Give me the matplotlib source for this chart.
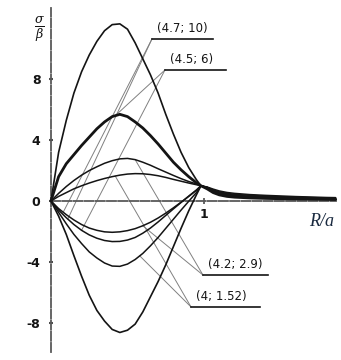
import numpy as np
import matplotlib as mpl
mpl.use("Agg")
import matplotlib.pyplot as plt

mpl.rcParams['axes.unicode_minus'] = False
mpl.rcParams['mathtext.fontset'] = 'dejavuserif'
plt.rc('font', family='DejaVu Sans', size=9)

# R/a sampling (shared by all curves)
r = [0.0, 0.05, 0.1, 0.15, 0.2, 0.25, 0.3, 0.35, 0.4, 0.45, 0.5, 0.55, 0.6,
     0.65, 0.7, 0.75, 0.8, 0.85, 0.9, 0.95, 0.98, 1.02, 1.06, 1.1, 1.15, 1.2,
     1.3, 1.4, 1.5, 1.6, 1.7, 1.8, 1.86]

# sigma/beta, positive branches
pos_47 = [0, 3.2, 5.3, 7.1, 8.5, 9.6, 10.5, 11.2, 11.6, 11.65, 11.3, 10.4, 9.35,
          8.3, 7.1, 5.7, 4.4, 3.2, 2.2, 1.4, 1.0,
          0.85, 0.62, 0.48, 0.38, 0.32, 0.26, 0.22, 0.19, 0.16, 0.14, 0.12, 0.11]
pos_45 = [0, 1.6, 2.45, 3.05, 3.65, 4.2, 4.75, 5.2, 5.55, 5.7, 5.55, 5.2, 4.8,
          4.3, 3.75, 3.15, 2.55, 2.05, 1.6, 1.2, 1.0,
          0.8, 0.55, 0.4, 0.3, 0.25, 0.2, 0.17, 0.15, 0.13, 0.12, 0.11, 0.1]
pos_42 = [0, 0.5, 0.95, 1.35, 1.7, 2.0, 2.25, 2.48, 2.65, 2.77, 2.8, 2.72, 2.55,
          2.35, 2.12, 1.9, 1.68, 1.47, 1.28, 1.12, 1.0,
          0.9, 0.72, 0.6, 0.5, 0.44, 0.37, 0.32, 0.28, 0.25, 0.22, 0.2, 0.19]
pos_40 = [0, 0.3, 0.55, 0.8, 1.0, 1.18, 1.34, 1.48, 1.6, 1.7, 1.77, 1.8, 1.79,
          1.74, 1.66, 1.55, 1.42, 1.3, 1.18, 1.07, 1.0,
          0.92, 0.78, 0.66, 0.56, 0.5, 0.42, 0.37, 0.33, 0.29, 0.26, 0.23, 0.22]

# negative branches
neg_a = [0, -0.5, -0.9, -1.25, -1.55, -1.78, -1.93, -2.03, -2.06, -2.03, -1.95,
         -1.82, -1.63, -1.4, -1.12, -0.8, -0.45, -0.08, 0.3, 0.7, 1.0,
         0.9, 0.7, 0.56, 0.45, 0.38, 0.3, 0.26, 0.22, 0.19, 0.17, 0.15, 0.14]
neg_b = [0, -0.6, -1.1, -1.55, -1.93, -2.23, -2.45, -2.6, -2.67, -2.66, -2.57,
         -2.4, -2.12, -1.78, -1.38, -0.95, -0.52, -0.1, 0.32, 0.72, 1.0,
         0.88, 0.68, 0.54, 0.43, 0.36, 0.29, 0.25, 0.21, 0.18, 0.16, 0.14, 0.13]
neg_c = [0, -0.75, -1.5, -2.2, -2.8, -3.35, -3.75, -4.08, -4.28, -4.3, -4.15,
         -3.85, -3.45, -2.95, -2.4, -1.8, -1.2, -0.6, -0.02, 0.55, 1.0,
         0.86, 0.64, 0.5, 0.4, 0.34, 0.27, 0.23, 0.2, 0.17, 0.15, 0.13, 0.12]
neg_d = [0, -1.0, -2.2, -3.6, -4.95, -6.2, -7.2, -7.9, -8.45, -8.65, -8.5,
         -8.1, -7.3, -6.3, -5.3, -4.2, -3.0, -1.8, -0.65, 0.4, 1.0,
         0.84, 0.6, 0.45, 0.35, 0.29, 0.23, 0.19, 0.16, 0.14, 0.12, 0.1, 0.09]

curves = [pos_47, pos_45, pos_42, pos_40, neg_a, neg_b, neg_c, neg_d]
widths = [1.2, 2.0, 1.1, 1.1, 1.1, 1.1, 1.1, 1.2]

yticks = [8, 4, 0, -4, -8]
xticks = [1]

# label text, underline start (R, value), underline length, leader targets (curve idx, R)
labels = ["(4.7; 10)", "(4.5; 6)", "(4.2; 2.9)", "(4; 1.52)"]
label_xy = [(0.66, 10.66), (0.745, 8.62), (0.993, -4.87), (0.915, -6.97)]
label_len = [0.40, 0.40, 0.425, 0.45]
leaders = [[(4, 0.08), (5, 0.11)],
           [(1, 0.42), (5, 0.20)],
           [(2, 0.55), (4, 0.60)],
           [(3, 0.42), (6, 0.58)]]

fig = plt.figure(figsize=(3.41, 3.6), dpi=100)
ax = fig.add_axes([0, 0, 1, 1])
ax.set_xlim(-0.333, 1.895)
ax.set_ylim(-10.46, 13.22)

ink = '#141414'
for c, lw in zip(curves, widths):
    ax.plot(r, c, color=ink, lw=lw, solid_capstyle='round', zorder=3)

# leader lines and underlined labels
for text, (lx, ly), ln, targets in zip(labels, label_xy, label_len, leaders):
    for idx, rt in targets:
        yt = np.interp(rt, r, curves[idx])
        ax.plot([lx, rt], [ly, yt], color='0.5', lw=0.7, zorder=2)
    ax.plot([lx, lx + ln], [ly, ly], color=ink, lw=1.2, zorder=3)
    ax.text(lx + 0.03, ly + 0.25, text, ha='left', va='bottom',
            fontsize=8.5, color=ink)

# axes through the origin
for side in ['top', 'right']:
    ax.spines[side].set_visible(False)
ax.spines['left'].set_position(('data', 0))
ax.spines['bottom'].set_position(('data', 0))
ax.spines['left'].set_bounds(-9.93, 12.7)
ax.spines['bottom'].set_bounds(0, 1.86)
for side in ['left', 'bottom']:
    ax.spines[side].set_color('0.35')
    ax.spines[side].set_linewidth(1.3)
    ax.spines[side].set_linestyle((0, (5, 1.2)))

ax.set_yticks(yticks)
ax.set_yticklabels([str(t) for t in yticks])
ax.set_xticks(xticks)
ax.set_xticklabels(['1'])
ax.tick_params(axis='y', direction='inout', length=3, width=1.5, pad=6,
               colors='0.3', labelcolor=ink, labelsize=9)
ax.tick_params(axis='x', direction='inout', length=4, width=1.2, pad=3,
               colors='0.3', labelcolor=ink, labelsize=9)
for lbl in ax.get_xticklabels() + ax.get_yticklabels():
    lbl.set_fontweight('bold')

ax.text(-0.078, 11.3, r'$\frac{\sigma}{\beta}$', ha='center', va='center',
        fontsize=13, color=ink)
ax.text(1.765, -1.32, 'R/a', ha='center', va='center', fontsize=13,
        family='Liberation Serif', style='italic', color='#1a2a40')

fig.savefig('out.png', dpi=100)
